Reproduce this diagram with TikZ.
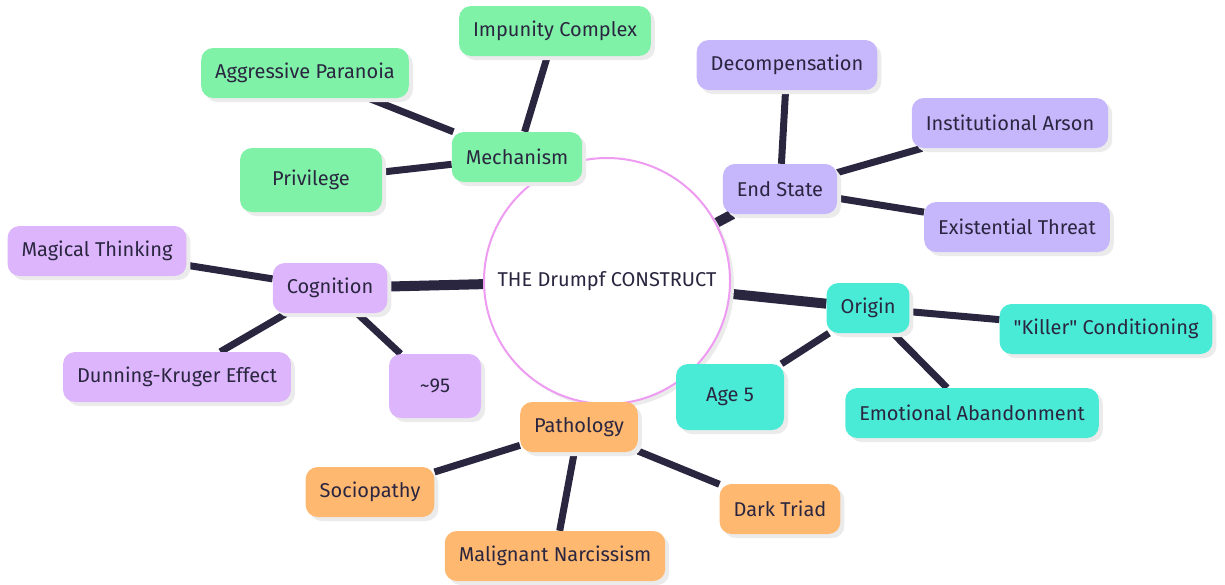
\documentclass[tikz,border=0pt]{standalone}
\usepackage{fontspec}
\setmainfont{Fira Sans}[Ligatures=TeXOff]
\usepackage{tikz}
\usetikzlibrary{backgrounds,shapes,shadows,calc}
\definecolor{inkdark}{HTML}{2A2640}
\definecolor{rootpink}{HTML}{EE9CF2}
\definecolor{mechgreen}{HTML}{7FF2A8}
\definecolor{endlilac}{HTML}{C6B6FC}
\definecolor{cogviolet}{HTML}{DDB5FD}
\definecolor{origteal}{HTML}{4AEBD6}
\definecolor{pathorange}{HTML}{FFB870}

\begin{document}
\begin{tikzpicture}[x=1pt,y=-1pt]
\tikzstyle{main}=[rectangle, rounded corners=12pt, draw=none, text=inkdark, font=\fontsize{20}{24}\selectfont, minimum height=50pt, inner xsep=14pt, drop shadow={shadow xshift=4pt, shadow yshift=-4pt, fill=black!8, opacity=1}]
\tikzstyle{root}=[circle, draw=rootpink, line width=2pt, fill=white, text=inkdark, font=\fontsize{20}{24}\selectfont, minimum size=246pt, drop shadow={shadow xshift=4pt, shadow yshift=-4pt, fill=black!8, opacity=1}]
\tikzstyle{mech}=[main, fill=mechgreen]
\tikzstyle{fin}=[main, fill=endlilac]
\tikzstyle{cog}=[main, fill=cogviolet]
\tikzstyle{orig}=[main, fill=origteal]
\tikzstyle{path}=[main, fill=pathorange]
\tikzstyle{trunk}=[draw=inkdark, line width=10pt]
\tikzstyle{twig}=[draw=inkdark, line width=7pt]

  \useasboundingbox (0,0) rectangle (1225,584);

  \node[root] (construct) at (607,281) {THE Drumpf CONSTRUCT};

  % Mechanism branch
  \node[mech] (mechanism) at (517,157) {Mechanism};
  \node[mech] (impunity)  at (555,31)  {Impunity Complex};
  \node[mech] (paranoia)  at (305,73)  {Aggressive Paranoia};
  \node[mech, minimum height=64pt, minimum width=142pt] (privilege) at (311,180) {Privilege};

  % End State branch
  \node[fin] (endstate)  at (780,189) {End State};
  \node[fin] (decomp)    at (787,65)  {Decompensation};
  \node[fin] (arson)     at (1010,123) {Institutional Arson};
  \node[fin] (threat)    at (1017,227) {Existential Threat};

  % Cognition branch
  \node[cog] (cognition) at (330,288) {Cognition};
  \node[cog] (magical)   at (97,251)  {Magical Thinking};
  \node[cog] (dunning)   at (177,377) {Dunning-Kruger Effect};
  \node[cog, minimum height=64pt, minimum width=92pt] (iq) at (435,386) {\textasciitilde 95};

  % Origin branch
  \node[orig] (origin)   at (868,308) {Origin};
  \node[orig] (killer)   at (1106,329) {"Killer" Conditioning};
  \node[orig, minimum height=66pt, minimum width=108pt] (agefive) at (730,397) {Age 5};
  \node[orig] (abandon)  at (972,413) {Emotional Abandonment};

  % Pathology branch
  \node[path] (pathology) at (579,427) {Pathology};
  \node[path] (socio)     at (370,492) {Sociopathy};
  \node[path] (triad)     at (780,509) {Dark Triad};
  \node[path] (malignant) at (555,556) {Malignant Narcissism};

  \begin{pgfonlayer}{background}
    \path (construct) edge [trunk] (mechanism);
    \path (construct) edge [trunk] (endstate);
    \path (construct) edge [trunk] (cognition);
    \path (construct) edge [trunk] (origin);
    \path (construct) edge [trunk] (pathology);

    \path (mechanism) edge [twig] (impunity);
    \path (mechanism) edge [twig] (paranoia);
    \path (mechanism) edge [twig] (privilege);

    \path (endstate) edge [twig] (decomp);
    \path (endstate) edge [twig] (arson);
    \path (endstate) edge [twig] (threat);

    \path (cognition) edge [twig] (magical);
    \path (cognition) edge [twig] (dunning);
    \path (cognition) edge [twig] (iq);

    \path (origin) edge [twig] (killer);
    \path (origin) edge [twig] (agefive);
    \path (origin) edge [twig] (abandon);

    \path (pathology) edge [twig] (socio);
    \path (pathology) edge [twig] (triad);
    \path (pathology) edge [twig] (malignant);
  \end{pgfonlayer}

\end{tikzpicture}
\end{document}
